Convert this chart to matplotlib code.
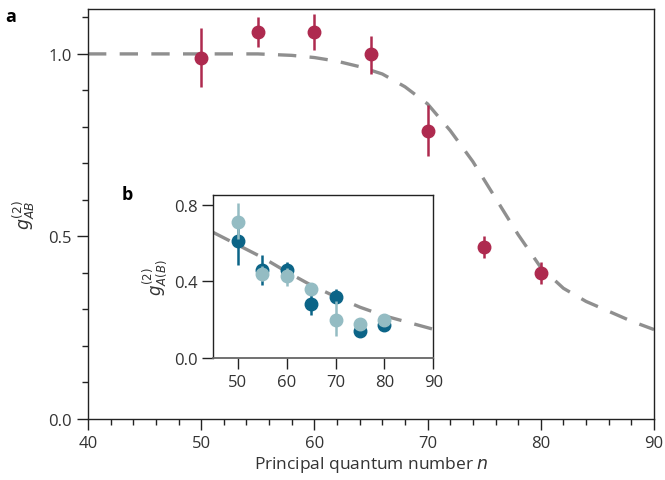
import matplotlib
matplotlib.use("Agg")
import matplotlib.pyplot as plt

plt.rcParams['font.family'] = ['Open Sans', 'DejaVu Sans']
plt.rcParams['mathtext.fontset'] = 'dejavusans'

# Main panel (a): measured g2_AB vs n
n_main = [50, 55, 60, 65, 70, 75, 80]
g_main = [0.99, 1.06, 1.06, 1.00, 0.79, 0.47, 0.40]
g_main_lo = [0.91, 1.02, 1.01, 0.945, 0.72, 0.44, 0.37]
g_main_hi = [1.07, 1.10, 1.11, 1.05, 0.86, 0.50, 0.43]

# theory curve (a)
n_theory = [40, 45, 50, 55, 58, 60, 62, 64, 66, 68, 70, 72, 74, 76, 78, 80, 82, 84, 86, 88, 90]
g_theory = [1.0, 1.0, 1.0, 1.0, 0.996, 0.99, 0.98, 0.965, 0.945, 0.91, 0.863, 0.79, 0.705,
            0.605, 0.505, 0.415, 0.358, 0.322, 0.295, 0.268, 0.245]

# Inset (b)
n_in = [50, 55, 60, 65, 70, 75, 80]
gA = [0.61, 0.46, 0.46, 0.28, 0.32, 0.14, 0.17]
gA_lo = [0.485, 0.38, 0.42, 0.225, 0.29, 0.12, 0.15]
gA_hi = [0.72, 0.54, 0.50, 0.33, 0.36, 0.16, 0.19]
gB = [0.71, 0.44, 0.43, 0.36, 0.20, 0.18, 0.20]
gB_lo = [0.62, 0.40, 0.375, 0.33, 0.115, 0.16, 0.18]
gB_hi = [0.81, 0.48, 0.47, 0.39, 0.30, 0.21, 0.23]

n_in_theory = [45, 50, 55, 60, 65, 70, 75, 80, 85, 90]
g_in_theory = [0.655, 0.59, 0.525, 0.45, 0.38, 0.32, 0.265, 0.22, 0.185, 0.15]

red = '#ae2a4f'
dark = '#0b6487'
light = '#94bcc3'
gray = '#8f8f8f'
txt = '#333333'

fig = plt.figure(figsize=(6.65, 4.81), dpi=100)
ax = fig.add_axes([88/665, 61/481, 566/665, 410/481])
ax.plot(n_theory, g_theory, color=gray, lw=2.4, dashes=(5.5, 4), zorder=1)
yerr = [[g - lo for g, lo in zip(g_main, g_main_lo)], [hi - g for g, hi in zip(g_main, g_main_hi)]]
ax.errorbar(n_main, g_main, yerr=yerr, fmt='o', color=red, ms=9, elinewidth=1.8, capsize=0, zorder=3)
ax.set_xlim(40, 90)
ax.set_ylim(0, 1.123)
ax.set_xticks([40, 50, 60, 70, 80, 90])
ax.set_xticks(range(40, 91, 2), minor=True)
ax.set_yticks([0.0, 0.5, 1.0])
ax.set_yticks([i/10 for i in range(0, 12)], minor=True)
ax.tick_params(which='major', length=8, width=1, labelsize=12, pad=3.5, colors='#222222', labelcolor=txt)
ax.tick_params(which='minor', length=4.5, width=1, colors='#222222')
for s in ax.spines.values():
    s.set_linewidth(1)
    s.set_color('#222222')
ax.set_xlabel('Principal quantum number $\\mathit{n}$', fontsize=12.5, color=txt, labelpad=2)
ax.set_ylabel('$g^{(2)}_{AB}$', fontsize=12.5, color=txt, labelpad=8)
fig.text(5/665, 1 - 17/481, 'a', fontsize=13, fontweight='bold', va='center', ha='left')

ins = fig.add_axes([213.3/665, 122/481, 220/665, 163.3/481])
ins.plot(n_in_theory, g_in_theory, color=gray, lw=2.4, dashes=(5.5, 4), zorder=1)
yerrA = [[g - lo for g, lo in zip(gA, gA_lo)], [hi - g for g, hi in zip(gA, gA_hi)]]
yerrB = [[g - lo for g, lo in zip(gB, gB_lo)], [hi - g for g, hi in zip(gB, gB_hi)]]
ins.errorbar(n_in, gA, yerr=yerrA, fmt='o', color=dark, ms=9, elinewidth=1.8, capsize=0, zorder=3)
ins.errorbar(n_in, gB, yerr=yerrB, fmt='o', color=light, ms=9, elinewidth=1.8, capsize=0, zorder=4)
ins.set_xlim(45, 90)
ins.set_ylim(0, 0.852)
ins.set_xticks([50, 60, 70, 80, 90])
ins.set_yticks([0.0, 0.4, 0.8])
ins.set_yticklabels(['0.0', '0.4', '0.8'])
ins.tick_params(which='major', length=8, width=1, labelsize=12, pad=3.5, colors='#222222', labelcolor=txt)
for s in ins.spines.values():
    s.set_linewidth(1)
    s.set_color('#222222')
ins.spines['bottom'].set_color('#666666')
ins.spines['bottom'].set_linewidth(1.3)
ins.set_ylabel('$g^{(2)}_{A(B)}$', fontsize=12, color=txt, labelpad=3)
fig.text(122/665, 1 - 195/481, 'b', fontsize=13, fontweight='bold', va='center', ha='left')

fig.savefig('out.png', dpi=100)
